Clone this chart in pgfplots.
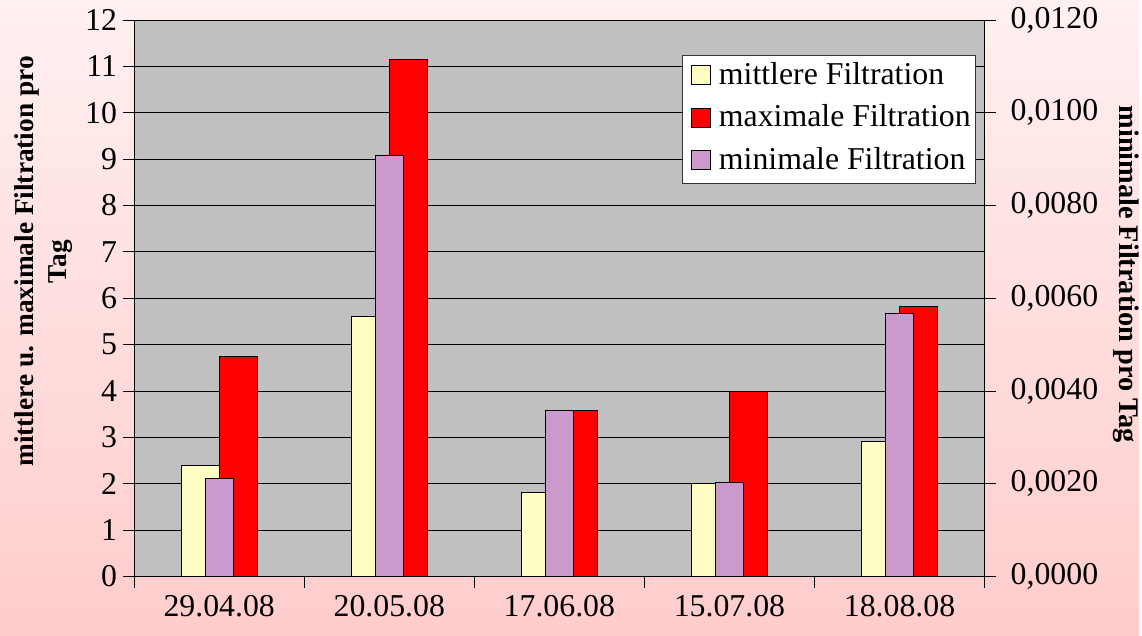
\documentclass[border=0pt]{standalone}
\usepackage{fontspec}
\setmainfont{Liberation Serif}
\usepackage{pgfplots}
\pgfplotsset{compat=1.18}

\definecolor{plotgray}{RGB}{192,192,192}
\definecolor{barYellow}{RGB}{255,255,196}
\definecolor{barRed}{RGB}{255,0,0}
\definecolor{barLilac}{RGB}{204,153,204}
\definecolor{bgTop}{RGB}{255,240,240}
\definecolor{bgBottom}{RGB}{255,204,204}

% square legend swatch with a gap before the text
\pgfplotsset{
  sqlegend/.style={legend image code/.code={%
    \path[draw=none, fill=none] (0bp,0bp) -- (32bp,0bp);
    \draw[##1,line width=0.8bp] (4bp,-8bp) rectangle (23bp,11bp);}},
}

\begin{document}
\begin{tikzpicture}[x=1bp,y=1bp]
\shade[top color=bgTop, bottom color=bgBottom] (0,0) rectangle (1142,637);

% primary axis: mean and maximum filtration
\begin{axis}[
  at={(134.5bp,59bp)}, anchor=south west,
  scale only axis, width=852.5bp, height=558bp,
  xmin=-0.5, xmax=4.5, ymin=0, ymax=12,
  axis lines*=left,
  axis line style={black, line width=0.8bp},
  axis background/.style={fill=plotgray},
  xtick={-0.5,0.5,1.5,2.5,3.5,4.5},
  xticklabels={29.04.08,20.05.08,17.06.08,15.07.08,18.08.08},
  x tick label as interval,
  ytick={0,1,...,12},
  ymajorgrids, major grid style={black, line width=0.8bp},
  tick align=outside, major tick length=11bp,
  tick style={black, line width=0.8bp},
  ticklabel style={font=\fontsize{32}{38}\selectfont},
  /pgf/number format/assume math mode=true,
  yticklabel style={inner sep=0pt, xshift=-6bp},
  xticklabel style={inner sep=0pt, yshift=-8bp},
  ylabel={mittlere u. maximale Filtration pro\\Tag},
  ylabel style={align=center, font=\bfseries\fontsize{27.5}{33}\selectfont,
    at={(axis description cs:-0.1062,0.566)}, anchor=center},
]
\addplot[ybar, bar width=38bp, bar shift=-19bp, fill=barYellow, draw=black, line width=0.8bp]
  coordinates {(0,2.39) (1,5.60) (2,1.81) (3,2.01) (4,2.92)};
\addplot[ybar, bar width=38bp, bar shift=19bp, fill=barRed, draw=black, line width=0.8bp]
  coordinates {(0,4.75) (1,11.15) (2,3.59) (3,4.00) (4,5.82)};
\end{axis}

% secondary axis: minimum filtration
\begin{axis}[
  at={(134.5bp,59bp)}, anchor=south west,
  scale only axis, width=852.5bp, height=558bp,
  xmin=-0.5, xmax=4.5, ymin=0, ymax=0.012,
  axis x line=none, axis y line*=right,
  axis line style={black, line width=0.8bp},
  ytick={0,0.002,0.004,0.006,0.008,0.010,0.012},
  scaled y ticks=false,
  /pgf/number format/fixed,
  /pgf/number format/fixed zerofill,
  /pgf/number format/precision=4,
  /pgf/number format/use comma,
  /pgf/number format/assume math mode=true,
  tick align=outside, major tick length=11bp,
  tick style={black, line width=0.8bp},
  ticklabel style={font=\fontsize{32}{38}\selectfont},
  yticklabel style={inner sep=0pt, xshift=15bp},
  ylabel={minimale Filtration pro Tag},
  ylabel style={font=\bfseries\fontsize{28.5}{33}\selectfont, rotate=180,
    at={(axis description cs:1.166,0.543)}, anchor=center},
  legend style={at={(0.99,0.937)}, anchor=north east, draw=black!80, fill=white,
    line width=0.8bp, font=\fontsize{32}{36}\selectfont,
    inner xsep=5bp, inner ysep=7bp, row sep=13.5bp,
    nodes={inner sep=0pt, text height=22bp, text depth=7bp}},
  legend cell align=left,
  sqlegend,
]
\addlegendimage{sqlegend, fill=barYellow, draw=black}
\addlegendimage{sqlegend, fill=barRed, draw=black}
\addlegendimage{sqlegend, fill=barLilac, draw=black}
\addplot[forget plot, ybar, bar width=28.5bp, bar shift=0bp, fill=barLilac, draw=black, line width=0.8bp]
  coordinates {(0,0.00211) (1,0.00908) (2,0.00359) (3,0.00204) (4,0.00567)};
\legend{mittlere Filtration, maximale Filtration, minimale Filtration}
\end{axis}
\end{tikzpicture}
\end{document}
